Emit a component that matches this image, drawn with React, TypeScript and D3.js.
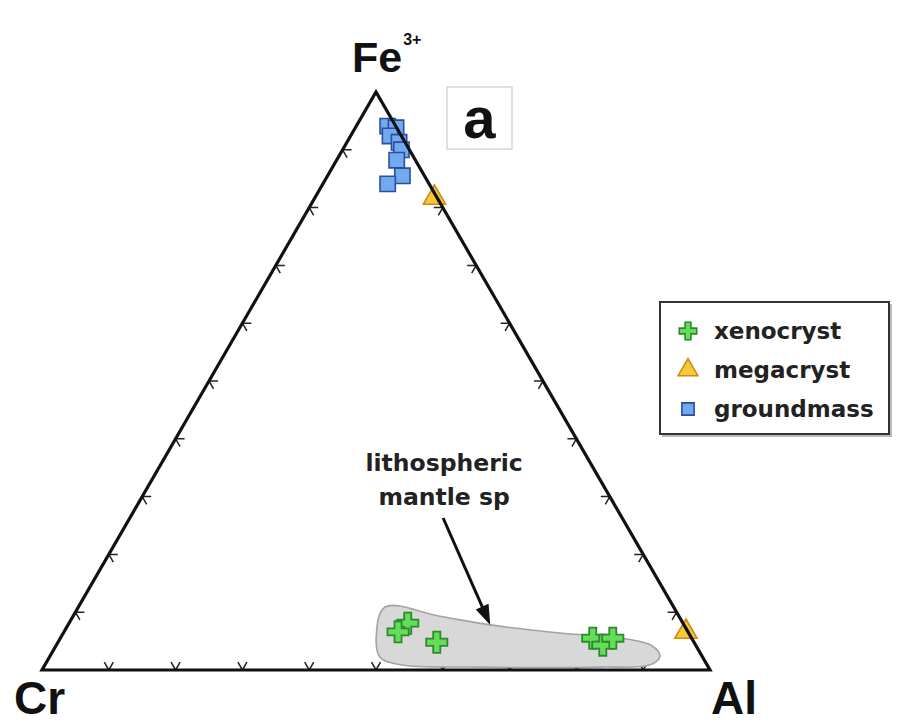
import React from 'react';
import * as d3 from 'd3';

// ternary points as [Al, Fe] fractions (Cr = 1 - Al - Fe)
const groundmass: [number, number][] = [
  [0.047, 0.941], [0.061, 0.938], [0.059, 0.924], [0.078, 0.913],
  [0.088, 0.900], [0.090, 0.882], [0.112, 0.855], [0.097, 0.841],
];
const megacryst: [number, number][] = [[0.179, 0.817], [0.931, 0.066]];
const xenocryst: [number, number][] = [
  [0.507, 0.081], [0.500, 0.066], [0.567, 0.048],
  [0.797, 0.055], [0.818, 0.043], [0.827, 0.055],
];
// lithospheric mantle spinel field outline
const mantleField: [number, number][] = [
  [0.459, 0.109], [0.549, 0.093], [0.632, 0.078], [0.743, 0.064],
  [0.846, 0.054], [0.892, 0.042], [0.913, 0.024], [0.906, 0.009],
  [0.833, 0.005], [0.653, 0.005], [0.532, 0.009], [0.495, 0.022], [0.470, 0.061],
];
const arrowFrom: [number, number] = [0.469, 0.263];
const arrowTo: [number, number] = [0.632, 0.078];
const tickSteps = [0.1, 0.2, 0.3, 0.4, 0.5, 0.6, 0.7, 0.8, 0.9];
const legendLabels = ['xenocryst', 'megacryst', 'groundmass'];

const W = 899, H = 726;
const x = d3.scaleLinear().domain([0, 1]).range([42, 710]);
const y = d3.scaleLinear().domain([0, 1]).range([670, 92]);
const proj = ([al, fe]: [number, number]): [number, number] => [x(al + fe / 2), y(fe)];

const CR = proj([0, 0]), AL = proj([1, 0]), FE = proj([0, 1]);

const styles = {
  xenocryst: { fill: '#66dd5a', stroke: '#2c8a2c' },
  megacryst: { fill: '#f7c83a', stroke: '#d08a12' },
  groundmass: { fill: '#72aaee', stroke: '#2b4ea3' },
};

const crossPath = d3.symbol(d3.symbolCross, 250)()!;
const triPath = d3.symbol(d3.symbolTriangle, 215)()!;
const squarePath = d3.symbol(d3.symbolSquare, 235)()!;
const legendCross = d3.symbol(d3.symbolCross, 170)()!;
const legendTri = d3.symbol(d3.symbolTriangle, 170)()!;
const legendSquare = d3.symbol(d3.symbolSquare, 150)()!;

function ticks() {
  const edges = [
    [CR, AL, FE],
    [CR, FE, AL],
    [AL, FE, CR],
  ];
  const len = 9;
  const out: string[] = [];
  for (const [a, b, c] of edges) {
    for (const t of tickSteps) {
      const px = a[0] + t * (b[0] - a[0]);
      const py = a[1] + t * (b[1] - a[1]);
      for (const v of [a, b]) {
        const dx = c[0] - v[0], dy = c[1] - v[1];
        const n = Math.hypot(dx, dy);
        out.push(`M${px},${py}L${px + (dx / n) * len},${py + (dy / n) * len}`);
      }
    }
  }
  return out.join('');
}

export default function App() {
  const fieldLine = d3.line().curve(d3.curveCatmullRomClosed.alpha(0.5));
  const fieldPts = mantleField.map(proj);
  const a0 = proj(arrowFrom), a1 = proj(arrowTo);
  const rad = Math.atan2(a1[1] - a0[1], a1[0] - a0[0]);
  const ang = rad * 180 / Math.PI;
  const labelFont = 'Liberation Sans, Arial, sans-serif';
  const smallFont = 'DejaVu Sans, Verdana, sans-serif';

  return (
    <svg width={W} height={H} style={{ position: 'absolute', left: 0, top: 0, background: '#fff' }}>
      {/* ticks */}
      <path d={ticks()} stroke="#222" strokeWidth={1.5} fill="none" />

      {/* field */}
      <path d={fieldLine(fieldPts)!} fill="#d8d8d8" stroke="#a3a3a3" strokeWidth={1.6} />

      {/* arrow */}
      <line x1={a0[0]} y1={a0[1]} x2={a1[0] - 14 * Math.cos(rad)} y2={a1[1] - 14 * Math.sin(rad)}
        stroke="#111" strokeWidth={3} />
      <path d="M0,0L-20,-7L-20,7Z" fill="#111" transform={`translate(${a1[0]},${a1[1]}) rotate(${ang})`} />
      <text x={a0[0] + 1} y={a0[1] - 47} textAnchor="middle" fontFamily={smallFont} fontWeight="bold" fontSize={23.5} fill="#222">lithospheric</text>
      <text x={a0[0] + 1} y={a0[1] - 13} textAnchor="middle" fontFamily={smallFont} fontWeight="bold" fontSize={23.5} fill="#222">mantle sp</text>

      {/* markers */}
      {groundmass.map((d, i) => {
        const [px, py] = proj(d);
        return <path key={'g' + i} d={squarePath} transform={`translate(${px},${py})`} fill={styles.groundmass.fill} stroke={styles.groundmass.stroke} strokeWidth={1.6} />;
      })}
      {megacryst.map((d, i) => {
        const [px, py] = proj(d);
        return <path key={'m' + i} d={triPath} transform={`translate(${px},${py})`} fill={styles.megacryst.fill} stroke={styles.megacryst.stroke} strokeWidth={1.6} />;
      })}
      {xenocryst.map((d, i) => {
        const [px, py] = proj(d);
        return <path key={'x' + i} d={crossPath} transform={`translate(${px},${py})`} fill={styles.xenocryst.fill} stroke={styles.xenocryst.stroke} strokeWidth={1.8} />;
      })}

      {/* frame */}
      <path d={`M${CR}L${AL}L${FE}Z`} fill="none" stroke="#111" strokeWidth={3.2} strokeLinejoin="miter" />

      {/* apex labels */}
      <text x={352} y={72} fontFamily={labelFont} fontWeight="bold" fontSize={43} fill="#111">
        Fe<tspan fontSize={16} dx={1} dy={-27}>3+</tspan>
      </text>
      <text x={14} y={714} fontFamily={labelFont} fontWeight="bold" fontSize={46} fill="#111">Cr</text>
      <text x={711} y={714} fontFamily={labelFont} fontWeight="bold" fontSize={46} fill="#111">Al</text>

      {/* panel label */}
      <rect x={447} y={87} width={65} height={62} fill="#fff" stroke="#d6d6d6" strokeWidth={1.5} />
      <text x={479.5} y={138} textAnchor="middle" fontFamily={labelFont} fontWeight="bold" fontSize={58} fill="#111">a</text>

      {/* legend */}
      <rect x={662} y={304} width={230} height={133} fill="#bbb" />
      <rect x={660} y={302} width={229} height={132} fill="#fff" stroke="#333" strokeWidth={2} />
      {legendLabels.map((lab, i) => {
        const ly = 331 + i * 39;
        const st = styles[lab as keyof typeof styles];
        const sym = i === 0 ? legendCross : i === 1 ? legendTri : legendSquare;
        return (
          <g key={lab}>
            <path d={sym} transform={`translate(688,${ly})`} fill={st.fill} stroke={st.stroke} strokeWidth={1.6} />
            <text x={714} y={ly + 8} fontFamily={smallFont} fontWeight="bold" fontSize={23} fill="#222">{lab}</text>
          </g>
        );
      })}
    </svg>
  );
}
